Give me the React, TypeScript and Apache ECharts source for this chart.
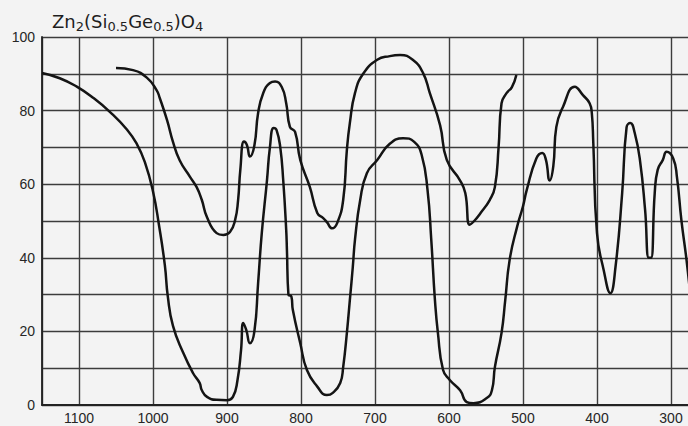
import React, { useEffect, useRef } from "react";
import * as echarts from "echarts";

// Infrared transmission spectra of Zn2(Si0.5Ge0.5)O4 (wavenumber, cm-1 vs. % transmission)
const wavenumberA = [
  1150, 1126, 1103, 1081, 1058, 1035, 1022, 1011, 1000, 992, 984, 980, 973, 959, 946, 937,
  934, 927, 914, 900, 892, 886, 881, 878, 874, 869, 863, 858, 853, 846, 842, 837, 833, 828,
  824, 820, 819, 817, 813, 811, 801, 792, 778, 765, 757, 747, 743, 738, 734, 730, 727, 720,
  711, 697, 680, 662, 647, 637, 629, 624, 619, 615, 608, 599, 585, 576, 567, 549, 542, 538,
  529, 524, 518, 508, 500, 495, 482, 474, 469, 464, 459, 455, 446, 430, 419, 410, 407, 405,
  400, 391, 382, 375, 366, 360, 355, 349, 342, 335, 330, 327, 322, 318, 311, 306, 297, 292,
  286, 279, 274,
];
const transmissionA = [
  90.2, 88.8, 86.5, 83.5, 79.6, 74.8, 71, 66, 58, 49, 38, 29.5, 21.5, 14.1, 8.7, 6,
  4, 2.2, 1.4, 1.3, 2.2, 6.5, 15, 22.3, 20.4, 16.8, 20, 33, 46.7, 61, 70, 75.3, 74.7, 70,
  61, 47.6, 42, 30, 29.5, 25.8, 16.8, 9.5, 5, 2.7, 3.3, 6, 10.3, 19.6, 28.5, 37.5, 45, 55.7,
  63, 66.6, 71, 72.5, 71.5, 68, 58.4, 45, 28.5, 19.6, 9.5, 6.8, 4, 0.8, 0.5, 1.9, 4, 10.3,
  19.6, 28.5, 39.5, 48.4, 54, 58.4, 67, 68.5, 66.6, 61, 65, 75.5, 81, 86.5, 84.2, 82, 79.3, 71.2,
  46.7, 36.7, 30.4, 37.5, 57.6, 75.5, 76.6, 73.9, 66.6, 53, 40, 40, 57.6, 63.9, 66.6, 68.8, 67, 62,
  50.3, 39.4, 30,
];

const wavenumberB = [
  1050, 1027, 1008, 995, 991, 981, 973, 964, 950, 941, 934, 927, 914, 905, 896, 889, 885,
  882, 877, 873, 869, 863, 858, 851, 842, 835, 826, 820, 815, 808, 801, 788, 778, 770, 765,
  758, 751, 743, 738, 734, 727, 716, 697, 680, 666, 649, 635, 626, 612, 603, 585, 578, 572,
  566, 558, 545, 538, 533, 529, 522, 515, 509,
];
const transmissionB = [
  91.6, 91, 88.9, 85.5, 83.5, 77.4, 71.5, 66.5, 62, 59.2, 55.7, 51, 46.7, 46.2, 47, 50.3, 55.7,
  63.9, 71.6, 70.6, 67.5, 70.5, 79.3, 84.8, 87.5, 87.9, 86.4, 82, 75.6, 74.2, 66.6, 59.2, 52.2, 50.8, 49.7,
  48, 49.5, 55.7, 69.3, 76.6, 84.8, 90, 93.8, 94.8, 95.1, 93.8, 90.2, 84.8, 76, 66.6, 61, 57.6, 49,
  50, 52, 55.7, 59.2, 70, 82, 84.8, 86.4, 89.7,
];

const xTickLabels = [1100, 1000, 900, 800, 700, 600, 500, 400, 300];
const yTickLabels = [0, 20, 40, 60, 80, 100];

const pairs = (xs: number[], ys: number[]) => xs.map((x, i) => [x, ys[i]]);

const INK = "#141414";
const GRID = "#3c3c3c";
const PAPER = "#f3f3f3";

export default function App() {
  const ref = useRef<HTMLDivElement>(null);

  useEffect(() => {
    if (!ref.current) return;
    const chart = echarts.init(ref.current, undefined, { renderer: "svg" });

    const lineSeries = (name: string, data: number[][]) => ({
      name,
      type: "line",
      data,
      showSymbol: false,
      smooth: 0.5,
      lineStyle: { color: INK, width: 2.5 },
      silent: true,
    });

    chart.setOption({
      animation: false,
      backgroundColor: PAPER,
      title: {
        text: "{m|Zn}{s|2}{m|(Si}{s|0.5}{m|Ge}{s|0.5}{m|)O}{s|4}",
        left: 52,
        top: 9,
        padding: 0,
        textStyle: {
          fontWeight: "normal",
          rich: {
            m: {
              fontFamily: "DejaVu Sans",
              fontWeight: "normal",
              fontSize: 18,
              lineHeight: 24,
              color: "#1e1e1e",
            },
            s: {
              fontFamily: "DejaVu Sans",
              fontWeight: "normal",
              fontSize: 13,
              lineHeight: 13,
              verticalAlign: "bottom",
              color: "#1e1e1e",
            },
          },
        },
      },
      grid: { left: 42, top: 37, width: 703, height: 368, outerBoundsMode: "none", containLabel: false },
      xAxis: {
        type: "value",
        inverse: true,
        min: 200,
        max: 1150,
        interval: 100,
        axisLine: { show: true, lineStyle: { color: "#222", width: 1.8 } },
        axisTick: { show: false },
        splitLine: { show: true, lineStyle: { color: GRID, width: 1.4 } },
        axisLabel: {
          margin: 6,
          color: "#262626",
          fontFamily: "Liberation Sans",
          fontSize: 14,
          formatter: (v: number) => (xTickLabels.includes(v) ? String(v) : ""),
        },
      },
      yAxis: {
        type: "value",
        min: 0,
        max: 100,
        interval: 10,
        axisLine: { show: true, lineStyle: { color: "#222", width: 1.8 } },
        axisTick: { show: false },
        splitLine: { show: true, lineStyle: { color: GRID, width: 1.4 } },
        axisLabel: {
          margin: 7,
          color: "#262626",
          fontFamily: "Liberation Sans",
          fontSize: 14,
          formatter: (v: number) => (yTickLabels.includes(v) ? String(v) : ""),
        },
      },
      series: [
        lineSeries("lower trace", pairs(wavenumberA, transmissionA)),
        lineSeries("upper trace", pairs(wavenumberB, transmissionB)),
      ],
    });

    return () => chart.dispose();
  }, []);

  return (
    <div
      ref={ref}
      style={{
        position: "fixed",
        left: 0,
        top: 0,
        width: 688,
        height: 426,
        background: PAPER,
        overflow: "hidden",
      }}
    />
  );
}
